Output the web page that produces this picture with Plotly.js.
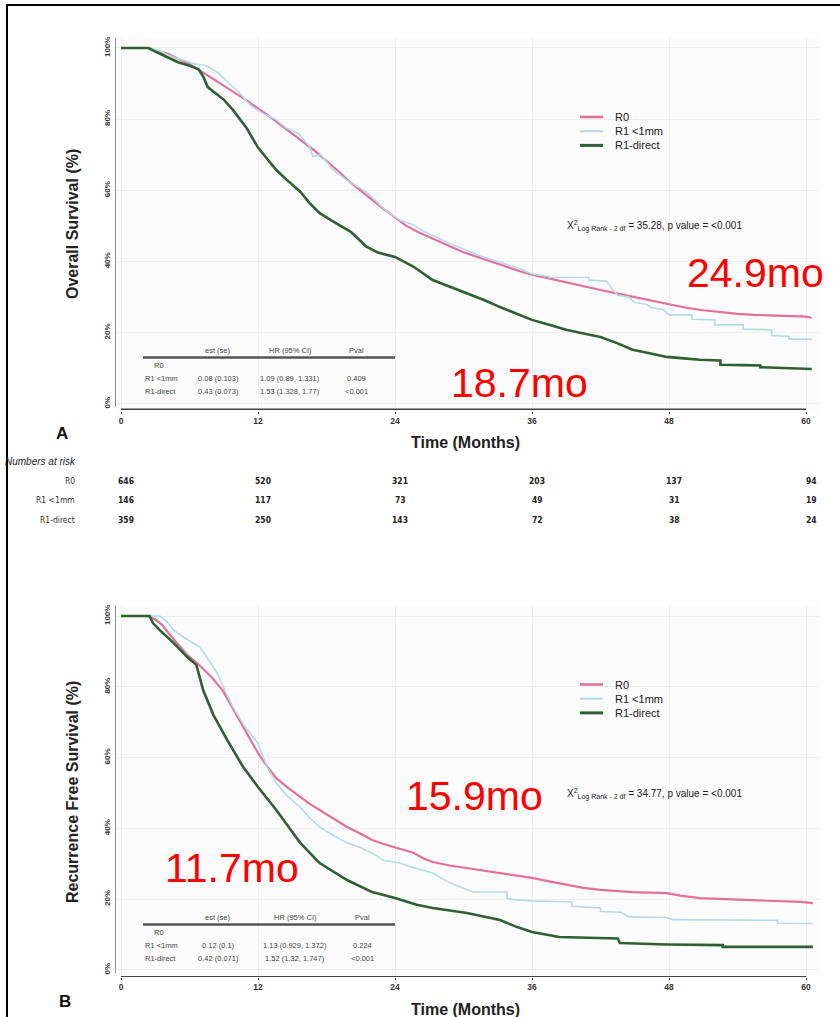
<!DOCTYPE html>
<html>
<head>
<meta charset="utf-8">
<script src="https://cdn.plot.ly/plotly-3.0.1.min.js"></script>
<style>html,body{margin:0;padding:0;background:#fff;}#chart{width:840px;height:1017px;}</style>
</head>
<body>
<div id="chart"></div>
<script>
// ---------- DATA ----------
const groups = ["R0", "R1 <1mm", "R1-direct"];
const groupColors = ["#e2709a", "#b3dbe5", "#2f5f33"];
const groupWidths = [2.2, 1.6, 2.6];

// Panel A: Overall survival (months, %)
const osR0_t = [0,2.4,3,4,5,6,7,8,9,10,11,12,13,14,15,16,17,18,19,20,21,22,23,24,25,26,27,28,29,30,31,32,33,34,35,36,37.5,39,40.5,42,43.5,45,46.5,48,49.5,51,52.5,54,55.5,57,58.5,60,60.5];
const osR0_s = [100,100,99.3,98.5,97,95.5,93.5,91.5,89.5,87.5,85.3,83,80.8,78.3,76,73.5,71,68.3,65.5,62.5,59.8,57.3,54.8,52.3,50,48.3,46.8,45.3,44,42.6,41.5,40.3,39.2,38.2,37.2,36.3,35.2,34,33,32,31,30,29,27.8,27,26.3,25.7,25.3,25,24.8,24.6,24.5,24.2];
const osR1_t = [0,2.6,3.5,4.5,5.5,6.5,7.5,8.5,9.5,10.5,11,11.5,12.5,13.5,14.5,15.5,16.5,16.8,17.5,18.5,19.5,20.5,21.5,22.5,23.5,24.5,25.5,26.5,27.5,28.5,30,31.5,33,34.5,36,37.5,37.5,41,41,42.5,43,43.5,44.5,45,46,46.5,47.5,48,50,50,52,52,54.5,54.5,57,57,58.5,58.5,60.5];
const osR1_s = [100,100,99,97.5,96.5,95.5,95,93,90,87,85,83.5,81.5,80,77.5,76,72.5,69.5,70,66,63.5,61.5,59.5,56.5,53.5,51.5,50.5,48.5,47,45.5,43.5,41.5,40,38.5,36.5,35.8,35.5,35.5,34.8,34.5,32.5,30.5,30,28.5,28,27,26.5,25,25,23.8,23.6,22.2,22.2,21,20.8,19.2,19,18.2,18.2];
const osR1d_t = [0,2.4,3,4,5,6,6.8,7.2,7.6,8,9,9.8,11,12,13,13.6,14.5,15.7,16.5,17.4,18.6,20.1,21.5,22.5,24,25.6,27.3,28.8,30.3,31.8,33.2,34.6,36,37.5,39,40.5,42,43.5,44.8,46.3,47.8,49.3,50.7,52.5,52.5,54.5,56,56,58,60.5];
const osR1d_s = [100,100,99,97.5,96,95,94,92,89,88,85.5,82.6,77.5,72,68,65.7,63,59.6,56.5,53.6,51.2,48.4,44.2,42.5,41.3,38.6,34.8,33,31.2,29.2,27.2,25.4,23.6,22.2,20.8,19.8,18.8,17,15.2,14.2,13.2,12.8,12.4,12.2,11,10.9,10.8,10.3,10.1,9.8];

// Panel B: Recurrence free survival (months, %)
const rfsR0_t = [0,2.3,3,3.6,4.2,5,5.8,6.9,8,8.9,9.6,10.4,11.2,12,12.8,13.6,14.6,15.7,16.5,17.4,18.6,19.8,21,22,23,24,25,25.6,26.5,27.3,28.8,30.3,31.8,33.2,34.6,36,37.5,39,40.5,42,44.8,47.8,49,50.7,53.6,56.6,59.5,60.6];
const rfsR0_s = [100,100,99,97.5,95,92,89,86,82.5,79,75,70.6,66,61.3,57.5,54.2,51.5,48.9,47,45.2,42.8,40.4,38.5,36.7,35.6,34.7,33.8,33.1,31.5,30.5,29.5,28.8,28,27.4,26.7,26,25,24,23.2,22.6,22,21.7,21,20.3,20,19.5,19.2,18.9];
const rfsR1_t = [0,3.4,4,4.6,5.5,6.2,6.9,7.6,8.4,9.1,9.8,10.8,12,12.8,13.6,14.6,15.7,16.5,17.4,18.6,19.8,21,22,23,24.4,25.5,27.3,28.8,30.8,33.8,33.8,34.7,36,39.5,39.5,42,42,43.8,44.5,47.8,48.3,57.5,57.5,60.6];
const rfsR1_s = [100,100,98.5,96,94,92.5,91.2,88,84,79,74.3,69,64,57.3,52.8,49,46,43,40.4,38,35.9,34.5,33,31,30.2,29,27.4,24.6,22,22,20.2,19.8,19.5,19.2,18,17.5,16.5,16.3,15,14.8,14.2,14,13.2,13.1];
const rfsR1d_t = [0,2.5,2.8,3.4,4.6,5.8,6.6,7.2,8.1,9.3,10.7,12,13.6,15.7,17.4,19.8,22,24,25.9,27.3,30.3,33.2,34.7,36,38.4,42,43.5,43.7,47.8,52.7,52.7,60.6];
const rfsR1d_s = [100,100,98,96,92.4,88.4,86.2,79,72,65,57.3,51.7,45.2,35.9,30.2,25.4,22,20.3,18.4,17.5,16.1,14.1,12.1,10.7,9.3,9,8.9,7.6,7.2,7,6.5,6.5];

// Axis ticks
const xTicks = [0, 12, 24, 36, 48, 60];
const xTickText = ["0", "12", "24", "36", "48", "60"];
const yTicks = [0, 20, 40, 60, 80, 100];
const yTickText = ["0%", "20%", "40%", "60%", "80%", "100%"];

// Numbers at risk (panel A)
const riskTimes = [0, 12, 24, 36, 48, 60];
const riskR0 = [646, 520, 321, 203, 137, 94];
const riskR1 = [146, 117, 73, 49, 31, 19];
const riskR1d = [359, 250, 143, 72, 38, 24];

// Cox tables
const coxHeader = ["est (se)", "HR (95% CI)", "Pval"];
const coxA_R1 = ["0.08 (0.103)", "1.09 (0.89, 1.331)", "0.409"];
const coxA_R1d = ["0.43 (0.073)", "1.53 (1.328, 1.77)", "&lt;0.001"];
const coxB_R1 = ["0.12 (0.1)", "1.13 (0.929, 1.372)", "0.224"];
const coxB_R1d = ["0.42 (0.071)", "1.52 (1.32, 1.747)", "&lt;0.001"];

const chiA = "35.28";
const chiB = "34.77";
const medianLabels = ["24.9mo", "18.7mo", "15.9mo", "11.7mo"];

// ---------- HELPERS ----------
const W = 840, H = 1017;
const px = v => v / W;
const py = v => 1 - v / H;
const FONT = "Liberation Sans, Arial, Helvetica, sans-serif";
const NARROW = "Liberation Sans Narrow, DejaVu Sans Condensed, Arial Narrow, sans-serif";

function tr(t, s, gi, xa, ya) {
  return {x: t, y: s, type: "scatter", mode: "lines", name: groups[gi],
    line: {color: groupColors[gi], width: groupWidths[gi], shape: "linear"},
    xaxis: xa, yaxis: ya, showlegend: false, hoverinfo: "x+y+name"};
}

const traces = [
  tr(osR0_t, osR0_s, 0, "x", "y"),
  tr(osR1_t, osR1_s, 1, "x", "y"),
  tr(osR1d_t, osR1d_s, 2, "x", "y"),
  tr(rfsR0_t, rfsR0_s, 0, "x2", "y2"),
  tr(rfsR1_t, rfsR1_s, 1, "x2", "y2"),
  tr(rfsR1d_t, rfsR1d_s, 2, "x2", "y2")
];

function xAxis(domain, anchor) {
  return {domain: domain, anchor: anchor, range: [-0.5, 61.2], tickvals: xTicks, ticktext: xTickText,
    ticks: "outside", ticklen: 2, tickwidth: 1, tickcolor: "#555",
    tickfont: {family: FONT, size: 8.5, color: "#333", weight: "bold"},
    showgrid: true, gridcolor: "#eeeeee", gridwidth: 1, zeroline: false, showline: false, fixedrange: true};
}
function yAxis(domain, anchor) {
  return {domain: domain, anchor: anchor, range: [-2, 103], tickvals: yTicks, ticktext: yTickText,
    tickangle: -90, ticks: "", ticklabelstandoff: 3,
    tickfont: {family: FONT, size: 8, color: "#333", weight: "bold"},
    showgrid: true, gridcolor: "#eeeeee", gridwidth: 1, zeroline: false, showline: false, fixedrange: true};
}

const shapes = [];
const annotations = [];
function ann(text, x, y, opts) {
  annotations.push(Object.assign({text: text, x: px(x), y: py(y), xref: "paper", yref: "paper",
    showarrow: false, xanchor: "center", yanchor: "middle",
    font: {family: FONT, size: 8, color: "#333"}}, opts || {}));
}
function hline(x0, x1, y, color, width) {
  shapes.push({type: "line", xref: "paper", yref: "paper", x0: px(x0), x1: px(x1), y0: py(y), y1: py(y),
    line: {color: color, width: width}});
}

// axis lines (drawn in data coordinates)
[["x","y",-1.5,-0.8,102.8],["x2","y2",-1.9,-0.8,103]].forEach(a => {
  shapes.push({type: "line", xref: a[0], yref: a[1], x0: 0, x1: 60, y0: a[2], y1: a[2], line: {color: "#444", width: 1.5}});
  shapes.push({type: "line", xref: a[0], yref: a[1], x0: -0.5, x1: -0.5, y0: a[3], y1: a[4], line: {color: "#555", width: 1.3}});
});

// Panel-specific decorations
function panelDecor(o) {
  // legend
  for (let i = 0; i < 3; i++) {
    const yy = o.legY + i * 14.2;
    hline(580, 603, yy, groupColors[i], groupWidths[i] + 0.4);
    ann(groups[i], 613, yy, {xanchor: "left", font: {family: FONT, size: 11, color: "#222"}});
  }
  // chi-square
  ann("X<sup>2</sup><sub>Log Rank - 2 df</sub> = " + o.chi + ", p value = &lt;0.001", 565, o.chiY,
      {xanchor: "left", font: {family: FONT, size: 10, color: "#222"}});
  // cox table
  const tf = {family: FONT, size: 7.5, color: "#444"};
  ann(coxHeader[0], o.cols[0], o.tabY, {font: tf});
  ann(coxHeader[1], o.cols[1], o.tabY, {font: tf});
  ann(coxHeader[2], o.cols[2], o.tabY, {font: tf});
  hline(143, 395, o.tabY + 7.5, "#555", 2.6);
  ann("R0", 159, o.tabY + 15, {font: tf});
  ann("R1 &lt;1mm", 143, o.tabY + 28.5, {xanchor: "left", font: tf});
  ann("R1-direct", 143, o.tabY + 41.5, {xanchor: "left", font: tf});
  for (let c = 0; c < 3; c++) {
    ann(o.r1[c], o.cols[c], o.tabY + 28.5, {font: tf});
    ann(o.r1d[c], o.cols[c], o.tabY + 41.5, {font: tf});
  }
  // axis titles and panel letter
  ann(o.ytitle, 72, o.ytitleY, {textangle: -90, font: {family: FONT, size: 16, color: "#222", weight: "bold"}});
  ann("Time (Months)", 465, o.xtitleY, {font: {family: FONT, size: 16, color: "#222", weight: "bold"}});
  ann(o.letter, o.letterX, o.letterY, {font: {family: FONT, size: 17, color: "#111", weight: "bold"}});
}

panelDecor({legY: 117, chi: chiA, chiY: 226, tabY: 350, cols: [218, 290, 356], r1: coxA_R1, r1d: coxA_R1d,
  ytitle: "Overall Survival (%)", ytitleY: 224, xtitleY: 443, letter: "A", letterX: 62, letterY: 434});
panelDecor({legY: 684.5, chi: chiB, chiY: 794, tabY: 917, cols: [218, 295, 362], r1: coxB_R1, r1d: coxB_R1d,
  ytitle: "Recurrence Free Survival (%)", ytitleY: 792, xtitleY: 1009, letter: "B", letterX: 65, letterY: 1001});

// Red median labels
const redFont = {family: FONT, size: 41, color: "#ff0000"};
ann(medianLabels[0], 755.5, 273, {font: redFont});
ann(medianLabels[1], 519.5, 383, {font: redFont});
ann(medianLabels[2], 474, 796, {font: redFont});
ann(medianLabels[3], 231.5, 868, {font: redFont});

// Numbers at risk table
ann("Numbers at risk", 3, 461, {xanchor: "left", font: {family: FONT, size: 10, color: "#222", style: "italic"}});
const riskRows = [[groups[0], riskR0, 481], ["R1 &lt;1mm", riskR1, 500.5], [groups[2], riskR1d, 520]];
const rf = {family: NARROW, size: 8.5, color: "#333"};
riskRows.forEach(r => {
  ann(r[0], 77, r[2], {xanchor: "right", font: rf});
  r[1].forEach((n, i) => {
    annotations.push({text: String(n), x: riskTimes[i], xref: "x", y: py(r[2]), yref: "paper",
      xshift: 5, showarrow: false, xanchor: "center", yanchor: "middle",
      font: {family: NARROW, size: 8.5, color: "#222", weight: "bold"}});
  });
});

// outer frame
shapes.push({type: "line", xref: "paper", yref: "paper", x0: px(7), x1: px(7), y0: py(4), y1: 0, line: {color: "#000", width: 2}});
shapes.push({type: "line", xref: "paper", yref: "paper", x0: px(6), x1: 1, y0: py(5), y1: py(5), line: {color: "#000", width: 2}});

const layout = {
  width: W, height: H, margin: {l: 0, r: 0, t: 0, b: 0},
  paper_bgcolor: "#ffffff", plot_bgcolor: "#fcfcfc",
  showlegend: false,
  xaxis: xAxis([px(115.3), px(819.7)], "y"),
  yaxis: yAxis([py(411), py(37.3)], "x"),
  xaxis2: xAxis([px(115.3), px(819.7)], "y2"),
  yaxis2: yAxis([py(977), py(605.4)], "x2"),
  shapes: shapes, annotations: annotations,
  font: {family: FONT}
};

Plotly.newPlot("chart", traces, layout, {displayModeBar: false, staticPlot: true});
</script>
</body>
</html>
